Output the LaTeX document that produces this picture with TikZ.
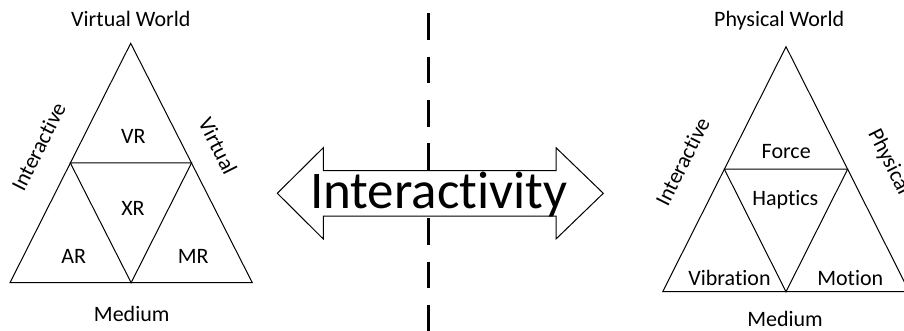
\documentclass[tikz,border=0pt]{standalone}
\usepackage{fontspec}
\setmainfont{Carlito}[Ligatures=CommonOff]
\usetikzlibrary{calc}
\begin{document}
\begin{tikzpicture}[x=1pt,y=-1pt,
  lbl/.style={font=\fontsize{22}{26}\selectfont, inner sep=0pt, anchor=base},
  sidelbl/.style={font=\fontsize{22}{26}\selectfont, inner sep=0pt},
  tri/.style={draw=black, line width=1pt, line join=miter},
  divider/.style={draw=black, line width=3.5pt, dash pattern=on 26.7pt off 16.7pt},
  bigarrow/.style={draw=black, fill=white, line width=1pt}]
\useasboundingbox (0,0) rectangle (904,331);
\clip (0,0) rectangle (904,331);

% left triangle
\coordinate (LA) at (130.7,43.3);
\coordinate (LB) at (10,282.7);
\coordinate (LC) at (252.3,282.7);
\coordinate (LAB) at ($(LA)!0.5!(LB)$);
\coordinate (LAC) at ($(LA)!0.5!(LC)$);
\coordinate (LBC) at ($(LB)!0.5!(LC)$);
\draw[tri] (LA) -- (LB) -- (LC) -- cycle;
\draw[tri] (LAB) -- (LAC) -- (LBC) -- cycle;

% right triangle
\coordinate (RA) at (786,46.7);
\coordinate (RB) at (662.7,291.7);
\coordinate (RC) at (909.3,291.7);
\coordinate (RAB) at ($(RA)!0.5!(RB)$);
\coordinate (RAC) at ($(RA)!0.5!(RC)$);
\coordinate (RBC) at ($(RB)!0.5!(RC)$);
\draw[tri] (RA) -- (RB) -- (RC) -- cycle;
\draw[tri] (RAB) -- (RAC) -- (RBC) -- cycle;

% left labels
\node[lbl] (vw) at (130.8,26.7) {Virtual World};
\node[lbl] (vr) at (133.3,143.3) {VR};
\node[lbl] (xr) at (133,215) {XR};
\node[lbl] (ar) at (73.7,263.3) {AR};
\node[lbl] (mr) at (193.3,263.3) {MR};
\node[lbl] (med1) at (131.7,321.7) {Medium};
\node[sidelbl, rotate=63.3] (int1) at (38.5,146.5) {Interactive};
\node[sidelbl, rotate=-63.3] (virt) at (218,146) {Virtual};

% right labels
\node[lbl] (pw) at (779.2,26.7) {Physical World};
\node[lbl] (force) at (786.2,158.3) {Force};
\node[lbl] (hap) at (785.3,205) {Haptics};
\node[lbl] (vib) at (729.5,285) {Vibration};
\node[lbl] (mot) at (850.3,285) {Motion};
\node[lbl] (med2) at (785,326.7) {Medium};
\node[sidelbl, rotate=63.3] (int2) at (682.5,161.5) {Interactive};
\node[sidelbl, rotate=-63.3] (phys) at (889,162) {Physical};

% divider
\coordinate (d1) at (428.3,13.3);
\coordinate (d2) at (428.3,170.7);
\coordinate (d3) at (428.3,218.3);
\coordinate (d4) at (428.3,340);
\draw[divider] (d1) -- (d2);
\draw[divider] (d3) -- (d4);

% double arrow
\draw[bigarrow] (277.3,193.3) -- (323.3,147.7) -- (323.3,170.7) -- (556,170.7)
  -- (556,147.7) -- (603.3,193.3) -- (556,239) -- (556,216) -- (323.3,216)
  -- (323.3,239) -- cycle;
\node[font=\fontsize{53}{62}\selectfont, inner sep=0pt, anchor=base] (inter) at (438.7,208.3) {Interactivity};
\end{tikzpicture}
\end{document}
